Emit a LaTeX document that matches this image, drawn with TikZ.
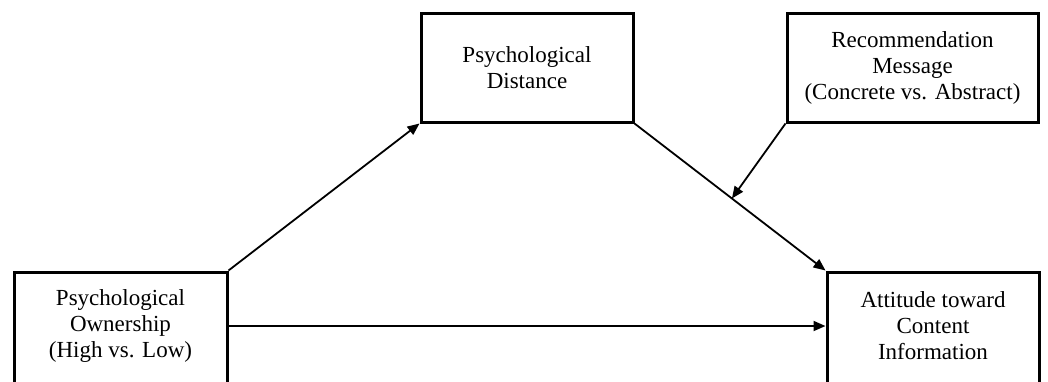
\documentclass[tikz,border=0pt]{standalone}
\usepackage{fontspec}
\setmainfont{Liberation Serif}
\usetikzlibrary{arrows.meta}
\begin{document}
\begin{tikzpicture}[x=1pt,y=-1pt,
  txt/.style={inner sep=0pt,align=center,font=\fontsize{23}{26}\selectfont},
  box/.style={txt,draw=black,line width=3pt},
  conn/.style={line width=1.8pt,-{Triangle[length=12pt,width=10pt]}}]
\useasboundingbox (0,0) rectangle (1048,381);
\node[box,minimum width=212pt,minimum height=109pt] (dist) at (527,67.5) {Psychological\\Distance};
\node[box,minimum width=251pt,minimum height=109pt] (rec) at (912.5,67.5) {Recommendation\\Message\\(Concrete vs. Abstract)};
\node[box,minimum width=213pt,minimum height=120pt] (own) at (120.5,332) {};
\node[txt] (ownT) at (120.5,326) {Psychological\\Ownership\\(High vs. Low)};
\node[box,minimum width=212pt,minimum height=120pt] (att) at (933,332) {};
\node[txt] (attT) at (933,326) {Attitude toward\\Content\\Information};
\draw[conn] (own.north east) -- (dist.south west);
\draw[conn] (dist.south east) -- coordinate[pos=0.51] (m) (att.north west);
\draw[conn] (own.east |- ownT) -- (att.west |- attT);
\draw[conn] (rec.south west) -- (m);
\end{tikzpicture}
\end{document}
